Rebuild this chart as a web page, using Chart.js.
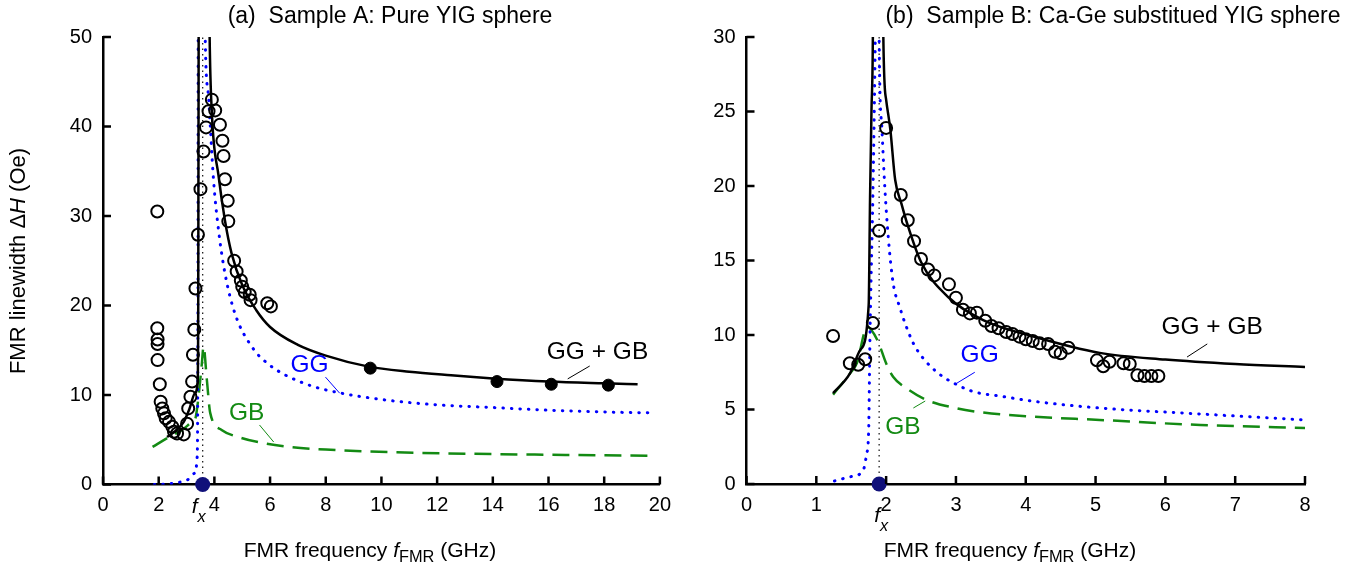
<!DOCTYPE html>
<html>
<head>
<meta charset="utf-8">
<script src="https://cdn.jsdelivr.net/npm/chart.js@4.4.1/dist/chart.umd.min.js"></script>
<style>
  html, body { margin: 0; padding: 0; background: #fff; }
  #wrap { position: relative; width: 1360px; height: 574px; }
  .panel { position: absolute; top: 0; width: 680px; height: 574px; }
  #panelA { left: 0; }
  #panelB { left: 680px; }
</style>
</head>
<body>
<div id="wrap">
  <div class="panel" id="panelA"><canvas id="chartA"></canvas></div>
  <div class="panel" id="panelB"><canvas id="chartB"></canvas></div>
</div>
<script>
// ---- Sample A : pure YIG sphere ----
const openFreqA  = [1.95, 1.95, 1.96, 1.96, 1.96, 2.04, 2.07, 2.13, 2.19, 2.25, 2.37, 2.49, 2.55, 2.66, 2.9, 3.02, 3.06, 3.14, 3.2, 3.23, 3.28, 3.32, 3.41, 3.5, 3.61, 3.7, 3.79, 3.91, 4.03, 4.2, 4.29, 4.33, 4.38, 4.48, 4.5, 4.71, 4.8, 4.95, 5.0, 5.09, 5.27, 5.3, 5.9, 6.03];
const openWidthA = [30.5, 17.45, 16.2, 15.7, 13.9, 11.2, 9.25, 8.5, 7.95, 7.4, 7.0, 6.45, 5.9, 5.7, 5.6, 6.8, 8.5, 9.8, 11.5, 14.5, 17.3, 21.9, 27.9, 33.0, 37.2, 39.9, 41.7, 43.0, 41.8, 40.2, 38.4, 36.7, 34.1, 31.7, 29.4, 25.0, 23.8, 22.8, 22.1, 21.5, 21.2, 20.6, 20.25, 19.9];
const filledFreqA  = [9.6, 14.15, 16.1, 18.15];
const filledWidthA = [13.0, 11.5, 11.2, 11.1];
const fxA = 3.58;

const sumLowFreqA   = [2.3, 2.6, 2.9, 3.1, 3.3, 3.4, 3.42, 3.44];
const sumLowWidthA  = [5.3, 6.0, 7.0, 8.4, 10.2, 11.5, 20, 60];
const sumHighFreqA  = [3.8, 3.83, 3.91, 4.15, 4.38, 4.62, 5.0, 5.5, 6.0, 7.0, 8.0, 9.5, 11, 12.5, 14, 16, 18, 19.2];
const sumHighWidthA = [60, 50, 41.5, 34.5, 29.5, 25.8, 22.3, 19.5, 17.6, 15.6, 14.4, 13.2, 12.6, 12.2, 11.85, 11.5, 11.3, 11.2];
const ggLowFreqA    = [1.84, 2.43, 3.02, 3.3, 3.38, 3.41, 3.42];
const ggLowWidthA   = [0, 0.1, 0.5, 1.3, 3, 20, 60];
const ggHighFreqA   = [3.64, 3.67, 3.79, 3.97, 4.15, 4.38, 4.74, 5.39, 5.98, 6.57, 7.5, 8.4, 10, 12, 14, 16, 18, 19.8];
const ggHighWidthA  = [60, 50, 43.3, 34, 28.4, 23.6, 19.1, 15.2, 13.35, 12.2, 11.0, 10.3, 9.5, 8.9, 8.6, 8.3, 8.1, 8.0];
const gbFreqA  = [1.78, 2.37, 2.84, 3.2, 3.32, 3.43, 3.55, 3.61, 3.73, 3.85, 4.26, 4.97, 5.8, 6.69, 8, 10.5, 14, 19.8];
const gbWidthA = [4.2, 5.3, 6.1, 7.0, 7.4, 9.8, 13.5, 15.4, 11.7, 8.0, 6.1, 5.2, 4.6, 4.2, 3.9, 3.6, 3.4, 3.2];

// ---- Sample B : Ca-Ge substituted YIG sphere ----
const openFreqB  = [1.24, 1.48, 1.6, 1.7, 1.81, 1.9, 2.0, 2.21, 2.31, 2.4, 2.5, 2.6, 2.69, 2.9, 3.0, 3.1, 3.2, 3.3, 3.42, 3.51, 3.61, 3.72, 3.81, 3.91, 4.0, 4.1, 4.2, 4.32, 4.42, 4.5, 4.61, 5.02, 5.11, 5.2, 5.4, 5.49, 5.6, 5.7, 5.8, 5.9];
const openWidthB = [9.93, 8.1, 8.0, 8.37, 10.8, 17.0, 23.9, 19.4, 17.7, 16.3, 15.1, 14.4, 14.0, 13.4, 12.5, 11.7, 11.45, 11.5, 10.96, 10.6, 10.45, 10.2, 10.07, 9.89, 9.71, 9.6, 9.44, 9.4, 8.88, 8.77, 9.15, 8.3, 7.9, 8.2, 8.1, 8.05, 7.3, 7.25, 7.25, 7.25];
const fxB = 1.9;

const sumLowFreqB   = [1.24, 1.48, 1.63, 1.75, 1.77, 1.79, 1.81, 1.82];
const sumLowWidthB  = [6.1, 7.4, 9.0, 12.0, 19.3, 25, 30, 40];
const sumHighFreqB  = [1.95, 1.96, 2.0, 2.06, 2.13, 2.22, 2.3, 2.5, 2.9, 3.39, 4.11, 5.06, 6.0, 7.0, 8.0];
const sumHighWidthB = [40, 30, 25.8, 23.8, 20.4, 18.8, 17.5, 14.9, 12.5, 11.0, 9.9, 8.8, 8.35, 8.05, 7.85];
const ggLowFreqB    = [1.26, 1.5, 1.67, 1.72, 1.75, 1.77, 1.81, 1.84, 1.87];
const ggLowWidthB   = [0.2, 0.5, 0.9, 2.0, 3.6, 10.3, 19.3, 28.2, 40];
const ggHighFreqB   = [1.89, 1.9, 1.94, 1.98, 2.03, 2.1, 2.2, 2.27, 2.39, 2.53, 2.77, 3.0, 3.25, 3.63, 4.2, 5.06, 6.5, 8.0];
const ggHighWidthB  = [40, 30, 23.8, 20.0, 16.6, 13.5, 11.8, 10.8, 9.44, 8.44, 7.35, 6.7, 6.2, 5.9, 5.5, 5.1, 4.7, 4.3];
const gbFreqB  = [1.24, 1.48, 1.58, 1.73, 1.88, 2.0, 2.1, 2.3, 2.58, 3.01, 3.3, 4.0, 5.06, 6.5, 8.0];
const gbWidthB = [6.0, 7.4, 8.1, 10.55, 9.6, 8.1, 7.2, 6.4, 5.64, 5.08, 4.85, 4.55, 4.3, 3.96, 3.76];

const BLUE = '#0000ff';
const GREEN = '#138a13';
const NAVY = '#10107a';
const FONT = '"Liberation Sans", Arial, sans-serif';

function pts(xs, ys) {
    return xs.map(function (x, i) { return { x: x, y: ys[i] }; });
}

function curve(xs, ys, color, kind) {
    const ds = {
        type: 'line',
        data: pts(xs, ys),
        borderColor: color,
        borderWidth: 2.5,
        pointRadius: 0,
        fill: false,
        cubicInterpolationMode: 'monotone',
        order: 2
    };
    if (kind === 'dot') {
        ds.borderDash = [0.5, 8];
        ds.borderCapStyle = 'round';
        ds.borderWidth = 3;
    } else if (kind === 'dash') {
        ds.borderDash = [17, 9];
    }
    return ds;
}

function fxLine(fx, top) {
    return {
        type: 'line',
        data: [ { x: fx, y: 0 }, { x: fx, y: top } ],
        borderColor: '#222',
        borderWidth: 1.3,
        borderDash: [1.5, 4],
        pointRadius: 0,
        order: 3
    };
}

function fxDot(fx) {
    return {
        type: 'scatter',
        data: [ { x: fx, y: 0 } ],
        pointRadius: 7.5,
        backgroundColor: NAVY,
        borderColor: NAVY,
        borderWidth: 0,
        clip: false,
        order: 0
    };
}

// one line of text made of plain / italic / subscript parts, centred on cx
function richText(ctx, parts, cx, cy, size, subDrop) {
    const fontOf = function (p) {
        const s = p.sub ? size * 0.78 : size;
        return (p.italic ? 'italic ' : '') + s + 'px ' + FONT;
    };
    let total = 0;
    parts.forEach(function (p) { ctx.font = fontOf(p); total += ctx.measureText(p.t).width; });
    let x = cx - total / 2;
    ctx.textBaseline = 'middle';
    ctx.textAlign = 'left';
    parts.forEach(function (p) {
        ctx.font = fontOf(p);
        ctx.fillText(p.t, x, p.sub ? cy + size * subDrop : cy);
        x += ctx.measureText(p.t).width;
    });
}

const decor = {
    id: 'decor',
    afterDraw: function (chart, args, opts) {
        const ctx = chart.ctx;
        const xs = chart.scales.x, ys = chart.scales.y;
        const area = chart.chartArea;
        ctx.save();
        // inward tick marks
        ctx.strokeStyle = '#000';
        ctx.lineWidth = 2.5;
        ctx.beginPath();
        xs.ticks.forEach(function (t) {
            const px = xs.getPixelForValue(t.value);
            ctx.moveTo(px, area.bottom);
            ctx.lineTo(px, area.bottom - 8);
        });
        ys.ticks.forEach(function (t) {
            const py = ys.getPixelForValue(t.value);
            ctx.moveTo(area.left, py);
            ctx.lineTo(area.left + 8, py);
        });
        ctx.stroke();

        // curve labels with leader lines
        opts.labels.forEach(function (l) {
            ctx.fillStyle = l.color;
            ctx.strokeStyle = l.color;
            ctx.lineWidth = 1;
            ctx.font = '24.5px ' + FONT;
            ctx.textAlign = 'center';
            ctx.textBaseline = 'middle';
            ctx.fillText(l.text, xs.getPixelForValue(l.x), ys.getPixelForValue(l.y));
            ctx.beginPath();
            ctx.moveTo(xs.getPixelForValue(l.from[0]), ys.getPixelForValue(l.from[1]));
            ctx.lineTo(xs.getPixelForValue(l.to[0]), ys.getPixelForValue(l.to[1]));
            ctx.stroke();
        });

        ctx.fillStyle = '#000';
        // f_x marker label
        const fxp = xs.getPixelForValue(opts.fx) + opts.fxDx;
        richText(ctx, [ { t: 'f', italic: true }, { t: 'x', italic: true, sub: true } ], fxp, opts.fxY, 21, 0.5);

        // panel title
        ctx.font = opts.titleSize + 'px ' + FONT;
        ctx.textAlign = 'center';
        ctx.textBaseline = 'middle';
        ctx.fillText(opts.title, opts.titleX, 17);

        // x axis title
        richText(ctx, [
            { t: 'FMR frequency ' },
            { t: 'f', italic: true },
            { t: 'FMR', sub: true },
            { t: ' (GHz)' }
        ], opts.xTitleX, 551, 21, 0.33);

        // y axis title
        if (opts.yTitle) {
            ctx.translate(19, 261);
            ctx.rotate(-Math.PI / 2);
            richText(ctx, [
                { t: 'FMR linewidth \u0394' },
                { t: 'H', italic: true },
                { t: ' (Oe)' }
            ], 0, 0, 22, 0.3);
        }
        ctx.restore();
    }
};

function axes(xmax, xstep, ymax, ystep, yWidth, xHeight) {
    const tickFont = { family: FONT, size: 20 };
    return {
        x: {
            type: 'linear', min: 0, max: xmax,
            ticks: { stepSize: xstep, color: '#000', font: tickFont, padding: 9, maxRotation: 0 },
            grid: { display: false, drawTicks: false },
            border: { display: true, color: '#000', width: 2.5 },
            afterFit: function (s) { s.height = xHeight; }
        },
        y: {
            type: 'linear', min: 0, max: ymax,
            ticks: { stepSize: ystep, color: '#000', font: tickFont, padding: 11 },
            grid: { display: false, drawTicks: false },
            border: { display: true, color: '#000', width: 2.5 },
            afterFit: function (s) { s.width = yWidth; }
        }
    };
}

window.addEventListener('load', function () {
    //
    new Chart(document.querySelector('#chartA'), {
        type: 'scatter',
        data: {
            datasets: [
                fxDot(fxA),
                { data: pts(openFreqA, openWidthA), pointRadius: 6, borderWidth: 2, borderColor: '#000', backgroundColor: 'rgba(0,0,0,0)', order: 1 },
                { data: pts(filledFreqA, filledWidthA), pointRadius: 6, borderWidth: 1, borderColor: '#000', backgroundColor: '#000', order: 1 },
                curve(sumLowFreqA, sumLowWidthA, '#000', 'solid'),
                curve(sumHighFreqA, sumHighWidthA, '#000', 'solid'),
                curve(ggLowFreqA, ggLowWidthA, BLUE, 'dot'),
                curve(ggHighFreqA, ggHighWidthA, BLUE, 'dot'),
                curve(gbFreqA, gbWidthA, GREEN, 'dash'),
                fxLine(fxA, 60)
            ]
        },
        options: {
            responsive: true,
            maintainAspectRatio: false,
            animation: false,
            layout: { padding: { left: 0, top: 37, right: 14, bottom: 0 } },
            scales: axes(20, 2, 50, 10, 103, 89.5),
            plugins: {
                legend: { display: false },
                tooltip: { enabled: false },
                decor: {
                    title: '(a)  Sample A: Pure YIG sphere',
                    titleX: 390,
                    titleSize: 23,
                    xTitleX: 370,
                    yTitle: true,
                    fx: fxA,
                    fxDx: -4,
                    fxY: 507,
                    labels: [
                        { text: 'GG', color: BLUE, x: 7.42, y: 13.35, from: [7.99, 12.0], to: [8.5, 10.2] },
                        { text: 'GB', color: GREEN, x: 5.16, y: 8.0, from: [5.62, 6.65], to: [6.13, 4.75] },
                        { text: 'GG + GB', color: '#000', x: 17.76, y: 14.8, from: [17.48, 13.24], to: [16.69, 11.8] }
                    ]
                }
            }
        },
        plugins: [ decor ]
    });
    //
    new Chart(document.querySelector('#chartB'), {
        type: 'scatter',
        data: {
            datasets: [
                fxDot(fxB),
                { data: pts(openFreqB, openWidthB), pointRadius: 6, borderWidth: 2, borderColor: '#000', backgroundColor: 'rgba(0,0,0,0)', order: 1 },
                curve(sumLowFreqB, sumLowWidthB, '#000', 'solid'),
                curve(sumHighFreqB, sumHighWidthB, '#000', 'solid'),
                curve(ggLowFreqB, ggLowWidthB, BLUE, 'dot'),
                curve(ggHighFreqB, ggHighWidthB, BLUE, 'dot'),
                curve(gbFreqB, gbWidthB, GREEN, 'dash'),
                fxLine(fxB, 40)
            ]
        },
        options: {
            responsive: true,
            maintainAspectRatio: false,
            animation: false,
            layout: { padding: { left: 0, top: 37, right: 55, bottom: 0 } },
            scales: axes(8, 1, 30, 5, 66.5, 90),
            plugins: {
                legend: { display: false },
                tooltip: { enabled: false },
                decor: {
                    title: '(b)  Sample B: Ca-Ge substitued YIG sphere',
                    titleX: 433,
                    titleSize: 23,
                    xTitleX: 330,
                    yTitle: false,
                    fx: fxB,
                    fxDx: 2,
                    fxY: 516,
                    labels: [
                        { text: 'GG + GB', color: '#000', x: 6.67, y: 10.54, from: [6.6, 9.4], to: [6.31, 8.52] },
                        { text: 'GG', color: BLUE, x: 3.34, y: 8.66, from: [3.27, 7.5], to: [2.99, 6.7] },
                        { text: 'GB', color: GREEN, x: 2.24, y: 3.83, from: [2.39, 5.1], to: [2.56, 5.57] }
                    ]
                }
            }
        },
        plugins: [ decor ]
    });
    //
}, false);
</script>
</body>
</html>
